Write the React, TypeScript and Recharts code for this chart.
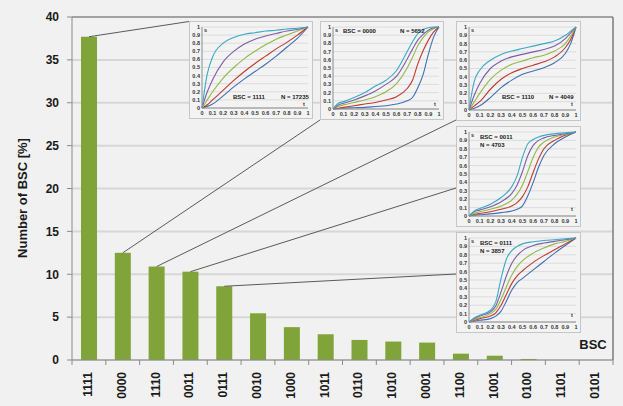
import React from 'react';
import { BarChart, Bar, XAxis, YAxis, CartesianGrid, ReferenceLine, LineChart, Line } from 'recharts';

// ---------- main chart data ----------
const BSC = ['1111', '0000', '1110', '0011', '0111', '0010', '1000', '1011', '0110', '1010', '0001', '1100', '1001', '0100', '1101', '0101'];
const PCT = [37.7, 12.5, 10.9, 10.3, 8.6, 5.45, 3.83, 3.0, 2.34, 2.15, 2.03, 0.74, 0.5, 0.12, 0, 0];
const Y_TICKS = [0, 5, 10, 15, 20, 25, 30, 35, 40];
const UNIT_TICKS = [0, 0.1, 0.2, 0.3, 0.4, 0.5, 0.6, 0.7, 0.8, 0.9, 1];

// ---------- inset data (s vs t, five curves each: blue, red, green, purple, cyan) ----------
const T_1111 = [0, 0.05, 0.1, 0.2, 0.3, 0.4, 0.5, 0.6, 0.7, 0.8, 0.9, 1];
const S_1111_BLUE = [0, 0.02, 0.05, 0.15, 0.26, 0.36, 0.45, 0.54, 0.64, 0.75, 0.86, 1];
const S_1111_RED = [0, 0.04, 0.1, 0.22, 0.34, 0.45, 0.55, 0.64, 0.73, 0.81, 0.9, 1];
const S_1111_GREEN = [0, 0.1, 0.2, 0.37, 0.5, 0.61, 0.7, 0.78, 0.85, 0.9, 0.95, 1];
const S_1111_PURPLE = [0, 0.2, 0.35, 0.57, 0.7, 0.79, 0.85, 0.89, 0.92, 0.95, 0.97, 1];
const S_1111_CYAN = [0, 0.42, 0.63, 0.8, 0.87, 0.91, 0.93, 0.95, 0.96, 0.975, 0.985, 1];

const T_0000 = [0, 0.05, 0.1, 0.2, 0.3, 0.4, 0.5, 0.6, 0.7, 0.75, 0.8, 0.85, 0.9, 0.95, 1];
const S_0000_BLUE = [0, 0.005, 0.01, 0.015, 0.02, 0.03, 0.04, 0.06, 0.1, 0.14, 0.26, 0.42, 0.67, 0.88, 1];
const S_0000_RED = [0, 0.01, 0.02, 0.04, 0.06, 0.08, 0.11, 0.15, 0.25, 0.35, 0.55, 0.71, 0.84, 0.94, 1];
const S_0000_GREEN = [0, 0.03, 0.05, 0.08, 0.11, 0.15, 0.21, 0.31, 0.5, 0.63, 0.77, 0.87, 0.94, 0.98, 1];
const S_0000_PURPLE = [0, 0.05, 0.07, 0.11, 0.16, 0.22, 0.3, 0.4, 0.61, 0.73, 0.84, 0.91, 0.96, 0.99, 1];
const S_0000_CYAN = [0, 0.07, 0.09, 0.14, 0.2, 0.28, 0.35, 0.47, 0.7, 0.82, 0.92, 0.97, 0.99, 1, 1];

const T_1110 = [0, 0.05, 0.1, 0.2, 0.3, 0.4, 0.5, 0.6, 0.7, 0.8, 0.9, 0.95, 1];
const S_1110_BLUE = [0, 0.02, 0.05, 0.15, 0.27, 0.36, 0.43, 0.47, 0.51, 0.57, 0.68, 0.8, 1];
const S_1110_RED = [0, 0.05, 0.1, 0.25, 0.37, 0.45, 0.5, 0.54, 0.58, 0.64, 0.75, 0.85, 1];
const S_1110_GREEN = [0, 0.1, 0.2, 0.37, 0.48, 0.55, 0.59, 0.63, 0.66, 0.71, 0.8, 0.89, 1];
const S_1110_PURPLE = [0, 0.18, 0.32, 0.5, 0.59, 0.64, 0.67, 0.7, 0.73, 0.77, 0.86, 0.93, 1];
const S_1110_CYAN = [0, 0.35, 0.48, 0.6, 0.67, 0.71, 0.74, 0.77, 0.8, 0.83, 0.9, 0.95, 1];

const T_0011 = [0, 0.05, 0.1, 0.2, 0.3, 0.4, 0.45, 0.5, 0.55, 0.6, 0.65, 0.7, 0.8, 0.9, 1];
const S_0011_BLUE = [0, 0.01, 0.015, 0.025, 0.04, 0.06, 0.08, 0.12, 0.24, 0.4, 0.58, 0.72, 0.86, 0.94, 1];
const S_0011_RED = [0, 0.02, 0.03, 0.05, 0.08, 0.12, 0.16, 0.23, 0.35, 0.52, 0.68, 0.8, 0.9, 0.96, 1];
const S_0011_GREEN = [0, 0.03, 0.05, 0.08, 0.12, 0.19, 0.26, 0.37, 0.53, 0.7, 0.82, 0.88, 0.94, 0.97, 1];
const S_0011_PURPLE = [0, 0.05, 0.07, 0.11, 0.17, 0.27, 0.37, 0.53, 0.72, 0.84, 0.9, 0.93, 0.96, 0.98, 1];
const S_0011_CYAN = [0, 0.06, 0.09, 0.14, 0.22, 0.35, 0.48, 0.7, 0.86, 0.91, 0.94, 0.96, 0.98, 0.99, 1];

const T_0111 = [0, 0.05, 0.1, 0.2, 0.25, 0.3, 0.35, 0.4, 0.45, 0.5, 0.6, 0.7, 0.8, 0.9, 1];
const S_0111_BLUE = [0, 0.01, 0.02, 0.04, 0.07, 0.13, 0.25, 0.38, 0.47, 0.52, 0.62, 0.72, 0.82, 0.91, 1];
const S_0111_RED = [0, 0.02, 0.04, 0.07, 0.11, 0.2, 0.33, 0.46, 0.55, 0.61, 0.71, 0.79, 0.86, 0.93, 1];
const S_0111_GREEN = [0, 0.03, 0.05, 0.1, 0.15, 0.27, 0.42, 0.56, 0.66, 0.73, 0.82, 0.88, 0.93, 0.96, 1];
const S_0111_PURPLE = [0, 0.04, 0.07, 0.12, 0.19, 0.36, 0.55, 0.7, 0.79, 0.85, 0.91, 0.94, 0.96, 0.98, 1];
const S_0111_CYAN = [0, 0.05, 0.08, 0.14, 0.24, 0.52, 0.75, 0.85, 0.9, 0.93, 0.955, 0.97, 0.98, 0.99, 1];

const CURVE_COLORS = ['#3f6fb6', '#c0392f', '#93b84a', '#7b5ea6', '#3aa9c6'];

const FONT = '"Liberation Sans", Arial, sans-serif';
const BG = '#f1f1f1';
const BAR_COLOR = '#80a43a';

// ---------- layout ----------
const W = 623;
const H = 406;
const PLOT_LEFT = 72;
const PLOT_RIGHT = 613;
const PLOT_W = PLOT_RIGHT - PLOT_LEFT;

type InsetCfg = {
  bsc: string;
  n: string;
  t: number[];
  curves: number[][];
  box: { left: number; top: number; w: number; h: number };
  anchor: [number, number];
  textLayout: 'bottom' | 'top' | 'stack';
  labelDx: [number, number];
};

const INSETS: InsetCfg[] = [
  { bsc: '1111', n: '17235', t: T_1111, curves: [S_1111_BLUE, S_1111_RED, S_1111_GREEN, S_1111_PURPLE, S_1111_CYAN],
    box: { left: 189, top: 21, w: 124, h: 98 }, anchor: [0, 0.5], textLayout: 'bottom', labelDx: [43, 91] },
  { bsc: '0000', n: '5652', t: T_0000, curves: [S_0000_BLUE, S_0000_RED, S_0000_GREEN, S_0000_PURPLE, S_0000_CYAN],
    box: { left: 320, top: 21, w: 124, h: 99 }, anchor: [0, 99], textLayout: 'top', labelDx: [22, 79] },
  { bsc: '1110', n: '4049', t: T_1110, curves: [S_1110_BLUE, S_1110_RED, S_1110_GREEN, S_1110_PURPLE, S_1110_CYAN],
    box: { left: 456, top: 21, w: 125, h: 100 }, anchor: [0, 99], textLayout: 'bottom', labelDx: [45, 92] },
  { bsc: '0011', n: '4703', t: T_0011, curves: [S_0011_BLUE, S_0011_RED, S_0011_GREEN, S_0011_PURPLE, S_0011_CYAN],
    box: { left: 456, top: 126, w: 125, h: 101 }, anchor: [0, 62], textLayout: 'stack', labelDx: [23, 23] },
  { bsc: '0111', n: '3857', t: T_0111, curves: [S_0111_BLUE, S_0111_RED, S_0111_GREEN, S_0111_PURPLE, S_0111_CYAN],
    box: { left: 456, top: 232, w: 125, h: 101 }, anchor: [0, 42], textLayout: 'stack', labelDx: [23, 23] },
];

const mainData = BSC.map((b, i) => ({ bsc: b, pct: PCT[i] }));

const BarWithConnector = (props: any) => {
  const { x, y, width, height, payload } = props;
  const inset = INSETS.find((c) => c.bsc === payload?.bsc);
  return (
    <g>
      <rect x={x} y={y} width={width} height={Math.max(0, height)} fill={BAR_COLOR} />
      {inset && (
        <line
          x1={x + width / 2}
          y1={y}
          x2={inset.box.left + inset.anchor[0]}
          y2={inset.box.top + inset.anchor[1]}
          stroke="#5a5a5a"
          strokeWidth={1}
        />
      )}
    </g>
  );
};

const XTick = (props: any) => {
  const { x, y, payload, index } = props;
  const half = PLOT_W / BSC.length / 2;
  return (
    <g>
      <line x1={x - half} y1={y} x2={x - half} y2={y + 5} stroke="#8a8a8a" />
      {index === BSC.length - 1 && <line x1={x + half} y1={y} x2={x + half} y2={y + 5} stroke="#8a8a8a" />}
      <text
        x={x - 1}
        y={y + 12}
        transform={`rotate(-90, ${x - 1}, ${y + 12})`}
        textAnchor="end"
        dominantBaseline="central"
        fontFamily={FONT}
        fontWeight="bold"
        fontSize={12}
        fill="#1a1a1a"
      >
        {payload.value}
      </text>
    </g>
  );
};

const Inset = ({ cfg }: { cfg: InsetCfg }) => {
  const { box } = cfg;
  const cw = box.w - 2;
  const ch = box.h - 2;
  const tf = { fontSize: 5.5, fontFamily: FONT, fontWeight: 'bold', fill: '#333' } as any;
  const bscText = `BSC = ${cfg.bsc}`;
  const nText = `N = ${cfg.n}`;
  let t1: [number, number];
  let t2: [number, number];
  if (cfg.textLayout === 'bottom') {
    t1 = [cfg.labelDx[0], 75];
    t2 = [cfg.labelDx[1], 75];
  } else if (cfg.textLayout === 'top') {
    t1 = [cfg.labelDx[0], 9];
    t2 = [cfg.labelDx[1], 9];
  } else {
    t1 = [cfg.labelDx[0], 9.5];
    t2 = [cfg.labelDx[1], 17.5];
  }
  return (
    <div
      style={{
        position: 'absolute',
        left: box.left,
        top: box.top,
        width: box.w,
        height: box.h,
        boxSizing: 'border-box',
        border: '1px solid #c6c6c6',
        background: '#f3f3f3',
      }}
    >
      <LineChart width={cw} height={ch} margin={{ top: 5, right: 4, left: 0, bottom: 0 }}>
        <CartesianGrid vertical={false} stroke="#d6d6d6" strokeWidth={0.8} />
        <XAxis
          type="number"
          dataKey="t"
          domain={[0, 1]}
          ticks={UNIT_TICKS}
          interval={0}
          height={10}
          tickLine={false}
          tickSize={0}
          tickMargin={3}
          axisLine={{ stroke: '#8c8c8c' }}
          tick={tf}
        />
        <YAxis
          type="number"
          domain={[0, 1]}
          ticks={UNIT_TICKS}
          interval={0}
          width={12}
          tickLine={false}
          tickSize={0}
          tickMargin={2}
          axisLine={{ stroke: '#8c8c8c' }}
          tick={tf}
        />
        {cfg.curves.map((vals, k) => (
          <Line
            key={k}
            data={cfg.t.map((t, j) => ({ t, s: vals[j] }))}
            dataKey="s"
            type="monotone"
            stroke={CURVE_COLORS[k]}
            strokeWidth={1.1}
            dot={false}
            isAnimationActive={false}
          />
        ))}
      </LineChart>
      <svg width={cw} height={ch} style={{ position: 'absolute', left: 0, top: 0, pointerEvents: 'none' }}>
        <text x={14} y={8} dominantBaseline="central" {...tf}>s</text>
        <text x={cw - 9} y={82} dominantBaseline="central" {...tf}>t</text>
        <text x={t1[0]} y={t1[1]} dominantBaseline="central" {...tf} fontSize={6} fill="#1a1a1a">{bscText}</text>
        <text x={t2[0]} y={t2[1]} dominantBaseline="central" {...tf} fontSize={6} fill="#1a1a1a">{nText}</text>
      </svg>
    </div>
  );
};

export default function App() {
  return (
    <div style={{ position: 'absolute', left: 0, top: 0, width: W, height: H, background: BG, fontFamily: FONT }}>
      <BarChart width={W} height={H} data={mainData} margin={{ top: 17, right: 9, bottom: 0, left: 0 }} barSize={16}>
        <CartesianGrid vertical={false} stroke="#d7d7d7" strokeWidth={2} />
        <XAxis
          dataKey="bsc"
          interval={0}
          height={46}
          tickSize={0}
          tickMargin={0}
          tickLine={false}
          axisLine={{ stroke: '#8a8a8a' }}
          tick={<XTick />}
          label={() => (
            <text x={593} y={344} textAnchor="middle" dominantBaseline="central" fontFamily={FONT} fontWeight="bold" fontSize={13} fill="#1a1a1a">
              BSC
            </text>
          )}
        />
        <YAxis
          domain={[0, 40]}
          ticks={Y_TICKS}
          interval={0}
          width={72}
          tickSize={5}
          tickMargin={8}
          tickLine={{ stroke: '#8a8a8a' }}
          axisLine={{ stroke: '#8a8a8a' }}
          tick={{ fontFamily: FONT, fontWeight: 'bold', fontSize: 12, fill: '#1a1a1a' }}
          label={() => (
            <text
              x={22}
              y={198}
              transform="rotate(-90, 22, 198)"
              textAnchor="middle"
              dominantBaseline="central"
              fontFamily={FONT}
              fontWeight="bold"
              fontSize={13}
              fill="#1a1a1a"
            >
              Number of BSC [%]
            </text>
          )}
        />
        <YAxis yAxisId="frame" orientation="right" domain={[0, 40]} width={1} tick={false} tickLine={false} axisLine={{ stroke: '#7a7a7a', strokeWidth: 1.5 }} />
        <ReferenceLine y={40} stroke="#6f6f6f" strokeWidth={1.2} />
        <Bar dataKey="pct" fill={BAR_COLOR} shape={<BarWithConnector />} isAnimationActive={false} />
      </BarChart>
      {INSETS.map((c) => (
        <Inset key={c.bsc} cfg={c} />
      ))}
    </div>
  );
}
